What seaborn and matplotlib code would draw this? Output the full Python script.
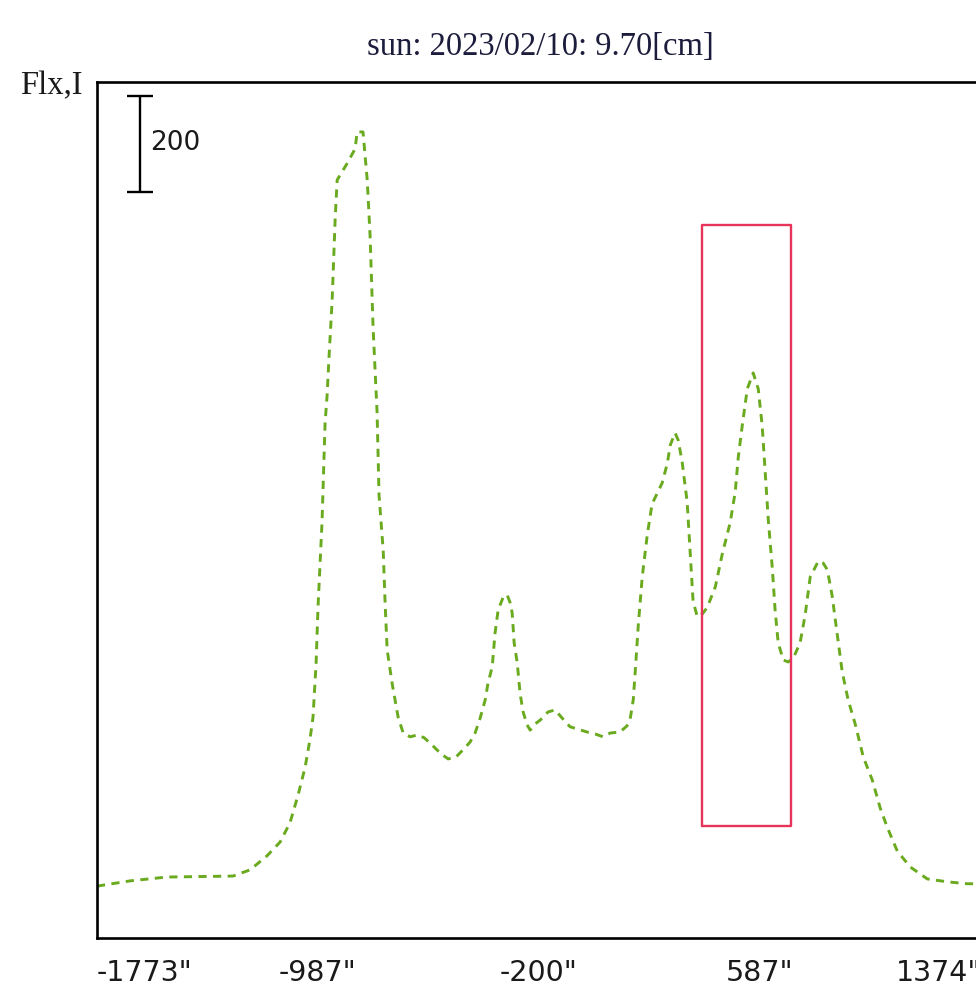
import matplotlib
matplotlib.use("Agg")
import matplotlib.pyplot as plt
import pandas as pd
import seaborn as sns

# profile: position [arcsec] and flux
pos_arcsec = [
    -1773, -1655, -1524, -1289, -1228, -1168, -1121, -1086, -1057, -1032,
    -1015, -1004, -993, -986, -972, -961, -954, -947, -936, -925,
    -918, -883, -854, -847, -826, -811, -801, -790, -776, -769,
    -754, -747, -740, -722, -712, -701, -683, -658, -633, -608,
    -580, -551, -523, -495, -470, -445, -427, -409, -391, -381,
    -366, -356, -345, -327, -313, -302, -295, -288, -277, -267,
    -256, -242, -231, -213, -195, -167, -142, -117, -89, -28,
    0, 29, 54, 89, 114, 125, 136, 143, 154, 168,
    186, 203, 239, 257, 268, 285, 296, 310, 328, 339,
    349, 364, 382, 399, 428, 453, 481, 499, 510, 524,
    542, 563, 581, 595, 606, 617, 631, 641, 652, 670,
    688, 706, 730, 748, 766, 795, 812, 827, 844, 862,
    880, 901, 926, 955, 987, 1015, 1040, 1076, 1122, 1183,
    1254, 1325, 1375,
]
flux = [
    108, 119, 127, 129, 142, 171, 200, 240, 298, 356,
    413, 460, 573, 692, 865, 1073, 1129, 1210, 1327, 1500,
    1579, 1613, 1644, 1679, 1679, 1579, 1465, 1269, 1096, 923,
    806, 692, 600, 529, 496, 460, 427, 419, 423, 417,
    402, 385, 373, 377, 392, 408, 427, 458, 496, 531,
    565, 635, 683, 710, 715, 698, 677, 615, 573, 510,
    471, 444, 433, 446, 454, 471, 475, 458, 440, 429,
    425, 419, 427, 429, 442, 456, 496, 554, 652, 752,
    840, 904, 948, 988, 1027, 1052, 1037, 992, 908, 800,
    702, 669, 675, 688, 731, 800, 865, 929, 1002, 1067,
    1144, 1177, 1144, 1067, 967, 869, 771, 683, 615, 579,
    575, 583, 615, 673, 752, 785, 781, 767, 713, 633,
    554, 496, 446, 377, 329, 271, 231, 181, 148, 123,
    117, 113, 113,
]

tick_pos = [-1773, -987, -200, 587, 1374]
tick_labels = ['-1773"', '-987"', '-200"', '587"', '1374"']

# marked window and scale bar
box_x = [382, 698]
box_y = [233, 1485]
scale_x = -1620
scale_y = [1554, 1754]
scale_label = "200"

title = "sun: 2023/02/10: 9.70[cm]"
ylabel = "Flx,I"

sns.set_style("white")
plt.rcParams["font.family"] = ["DejaVu Sans"]

df = pd.DataFrame({"pos": pos_arcsec, "flux": flux})

fig = plt.figure(figsize=(9.76, 9.86), dpi=100)
ax = fig.add_axes([97 / 976, 48 / 986, 884 / 976, 856 / 986])

sns.lineplot(data=df, x="pos", y="flux", ax=ax, color="#6aaa1e", lw=2.1,
             estimator=None, sort=False)
ax.lines[0].set_linestyle((0, (2.8, 2.2)))

# red window
ax.plot([box_x[0], box_x[1], box_x[1], box_x[0], box_x[0]],
        [box_y[0], box_y[0], box_y[1], box_y[1], box_y[0]],
        color="#e8345a", lw=1.7)

# scale bar
mid = (scale_y[0] + scale_y[1]) / 2
ax.errorbar([scale_x], [mid], yerr=[(scale_y[1] - scale_y[0]) / 2],
            fmt="none", ecolor="black", elinewidth=1.7, capsize=9.5, capthick=1.7)
ax.text(scale_x + 36, 1656, scale_label, fontsize=19, va="center", ha="left",
        color="#1a1a1a")

ax.set_xlim(-1773, 1374)
ax.set_ylim(0, 1783)
ax.set_xticks(tick_pos)
ax.set_xticklabels(tick_labels, fontsize=20.5)
labels = ax.get_xticklabels()
labels[0].set_horizontalalignment("left")
labels[-1].set_horizontalalignment("right")
ax.set_yticks([])
ax.set_xlabel("")
ax.set_ylabel("")
ax.tick_params(axis="x", direction="in", length=7, width=1.6, pad=15, colors="black",
               labelcolor="#1a1a1a")

for sp in ax.spines.values():
    sp.set_visible(True)
    sp.set_color("black")
    sp.set_linewidth(1.9)

fig.text(540 / 976, 1 - 47 / 986, title, family="Liberation Serif", fontsize=23.5,
         ha="center", va="center", color="#1c1c3c")
fig.text(20 / 976, 1 - 86 / 986, ylabel, family="Liberation Serif", fontsize=23.5,
         ha="left", va="center", color="#1a1a1a")

fig.savefig("out.png", dpi=100)
